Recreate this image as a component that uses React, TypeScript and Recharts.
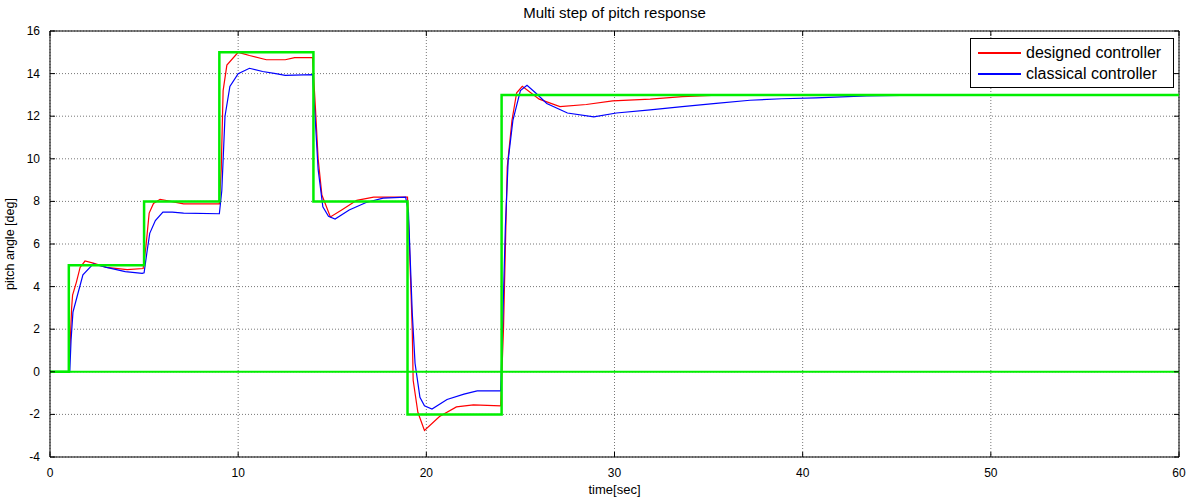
import React from 'react';
import { LineChart, Line, XAxis, YAxis, CartesianGrid, ReferenceLine } from 'recharts';

// time [s] / pitch [deg]
const referenceTime = [0, 1, 5, 9, 14, 19, 24, 60];
const referencePitch = [0, 5, 8, 15, 8, -2, 13, 13];

const zeroTime = [0, 60];
const zeroPitch = [0, 0];

const designedTime = [
  0, 1.0, 1.08, 1.15, 1.2, 1.4, 1.6, 1.86, 2.3, 3.0, 4.1, 4.95,
  5.1, 5.27, 5.5, 5.85, 6.55, 7.1, 9.0,
  9.1, 9.2, 9.4, 10.0, 10.6, 11.5, 12.5, 13.0, 13.95,
  14.1, 14.25, 14.45, 14.9, 15.5, 16.3, 17.2, 19.0,
  19.1, 19.25, 19.3, 19.55, 19.9, 20.7, 21.6, 22.5, 23.95,
  24.1, 24.3, 24.55, 24.8, 25.1, 26.0, 27.1, 28.5, 29.9, 31.9, 33.6, 35.8, 60,
];
const designedPitch = [
  0, 0, 1.5, 3.0, 3.6, 4.2, 4.9, 5.2, 5.1, 4.9, 4.8, 4.85,
  5.9, 7.45, 7.9, 8.1, 7.98, 7.88, 7.88,
  9.5, 13.2, 14.4, 15.0, 14.85, 14.65, 14.65, 14.75, 14.75,
  12.5, 10.0, 8.3, 7.27, 7.6, 8.05, 8.2, 8.2,
  6.0, 2.0, -0.4, -1.9, -2.75, -2.1, -1.65, -1.55, -1.6,
  2.0, 9.6, 11.8, 13.1, 13.4, 12.8, 12.45, 12.55, 12.72, 12.8, 12.92, 13.0, 13.0,
];

const classicalTime = [
  0, 1.05, 1.12, 1.22, 1.43, 1.75, 2.3, 3.0, 4.0, 4.9,
  5.0, 5.15, 5.3, 5.6, 6.0, 6.5, 7.1, 9.0,
  9.13, 9.3, 9.56, 10.0, 10.6, 11.3, 12.0, 12.5, 13.95,
  14.1, 14.25, 14.5, 14.8, 15.15, 15.9, 16.8, 17.7, 18.9,
  19.05, 19.25, 19.4, 19.66, 19.9, 20.3, 21.1, 22.0, 22.7, 23.95,
  24.05, 24.2, 24.35, 24.6, 25.0, 25.35, 25.8, 26.4, 27.5, 28.9,
  30.1, 31.9, 33.6, 35.4, 37.2, 38.9, 40.7, 43.4, 47, 60,
];
const classicalPitch = [
  0, 0, 1.5, 2.8, 3.5, 4.55, 5.07, 4.9, 4.7, 4.62,
  4.65, 5.6, 6.5, 7.1, 7.5, 7.5, 7.45, 7.42,
  8.5, 12.0, 13.4, 14.0, 14.25, 14.1, 14.0, 13.92, 13.95,
  11.8, 9.5, 7.75, 7.3, 7.17, 7.6, 7.95, 8.15, 8.2,
  7.5, 2.8, 0.4, -1.2, -1.6, -1.75, -1.3, -1.05, -0.9, -0.9,
  2.0, 6.8, 9.95, 11.8, 13.2, 13.45, 13.1, 12.6, 12.15, 11.97,
  12.15, 12.3, 12.45, 12.6, 12.75, 12.82, 12.86, 12.95, 13.0, 13.0,
];

const xTicks = [0, 10, 20, 30, 40, 50, 60];
const yTicks = [-4, -2, 0, 2, 4, 6, 8, 10, 12, 14, 16];

const toPoints = (t: number[], v: number[]) => t.map((time, i) => ({ t: time, v: v[i] }));

const legendItems = [
  { label: 'designed controller', color: '#ff0000' },
  { label: 'classical controller', color: '#0000ff' },
];

const font = '"Liberation Sans", Arial, sans-serif';

// matlab-style inward tick marks drawn together with the label
const XTick = (props: any) => {
  const { x, y, payload } = props;
  return (
    <g>
      <line x1={x} x2={x} y1={457} y2={452} stroke="#000" />
      <line x1={x} x2={x} y1={31} y2={36} stroke="#000" />
      <text x={x} y={y + 10} textAnchor="middle" fontSize={12} fontFamily={font} fill="#000">{payload.value}</text>
    </g>
  );
};

const YTick = (props: any) => {
  const { x, y, payload } = props;
  return (
    <g>
      <line x1={50} x2={55} y1={y} y2={y} stroke="#000" />
      <line x1={1179} x2={1174} y1={y} y2={y} stroke="#000" />
      <text x={x} y={y + 4} textAnchor="end" fontSize={12} fontFamily={font} fill="#000">{payload.value}</text>
    </g>
  );
};

export default function App() {
  return (
    <div style={{ position: 'absolute', left: 0, top: 0, width: 1191, height: 499, background: '#fff' }}>
      <LineChart width={1191} height={499} margin={{ top: 31, right: 12, left: 0, bottom: 2 }}>
        <CartesianGrid stroke="#777" strokeDasharray="1 2" />
        <XAxis
          type="number"
          dataKey="t"
          domain={[0, 60]}
          ticks={xTicks}
          height={40}
          axisLine={{ stroke: '#000' }}
          tickLine={false}
          tickMargin={4}
          tick={<XTick />}
          allowDataOverflow
          label={{ value: 'time[sec]', position: 'insideBottom', offset: 3, style: { fontSize: 13, fill: '#000', fontFamily: font } }}
        />
        <YAxis
          type="number"
          domain={[-4, 16]}
          ticks={yTicks}
          width={50}
          axisLine={{ stroke: '#000' }}
          tickLine={false}
          tickMargin={4}
          tick={<YTick />}
          allowDataOverflow
          label={{ value: 'pitch angle [deg]', angle: -90, position: 'insideLeft', offset: 10, style: { textAnchor: 'middle', fontSize: 12.5, fill: '#000', fontFamily: font } }}
        />
        <ReferenceLine y={16} stroke="#000" />
        <ReferenceLine x={60} stroke="#000" />
        <Line data={toPoints(designedTime, designedPitch)} dataKey="v" type="linear" stroke="#ff0000" strokeWidth={1.2} dot={false} isAnimationActive={false} />
        <Line data={toPoints(classicalTime, classicalPitch)} dataKey="v" type="linear" stroke="#0000ff" strokeWidth={1.2} dot={false} isAnimationActive={false} />
        <Line data={toPoints(zeroTime, zeroPitch)} dataKey="v" type="linear" stroke="#00ee00" strokeWidth={2} dot={false} isAnimationActive={false} />
        <Line data={toPoints(referenceTime, referencePitch)} dataKey="v" type="stepAfter" stroke="#00ee00" strokeWidth={2.5} dot={false} isAnimationActive={false} />
      </LineChart>
      <div style={{ position: 'absolute', left: 50, width: 1129, top: 4, textAlign: 'center', fontFamily: font, fontSize: 15 }}>
        Multi step of pitch response
      </div>
      <div style={{ position: 'absolute', left: 970, top: 38, width: 204, height: 50, border: '1px solid #000', background: '#fff', boxSizing: 'border-box', padding: '3px 0 0 7px', fontFamily: font, fontSize: 16 }}>
        {legendItems.map((it) => (
          <div key={it.label} style={{ display: 'flex', alignItems: 'center', height: 21 }}>
            <span style={{ display: 'inline-block', width: 43, height: 2, background: it.color, marginRight: 5 }} />
            <span>{it.label}</span>
          </div>
        ))}
      </div>
    </div>
  );
}
